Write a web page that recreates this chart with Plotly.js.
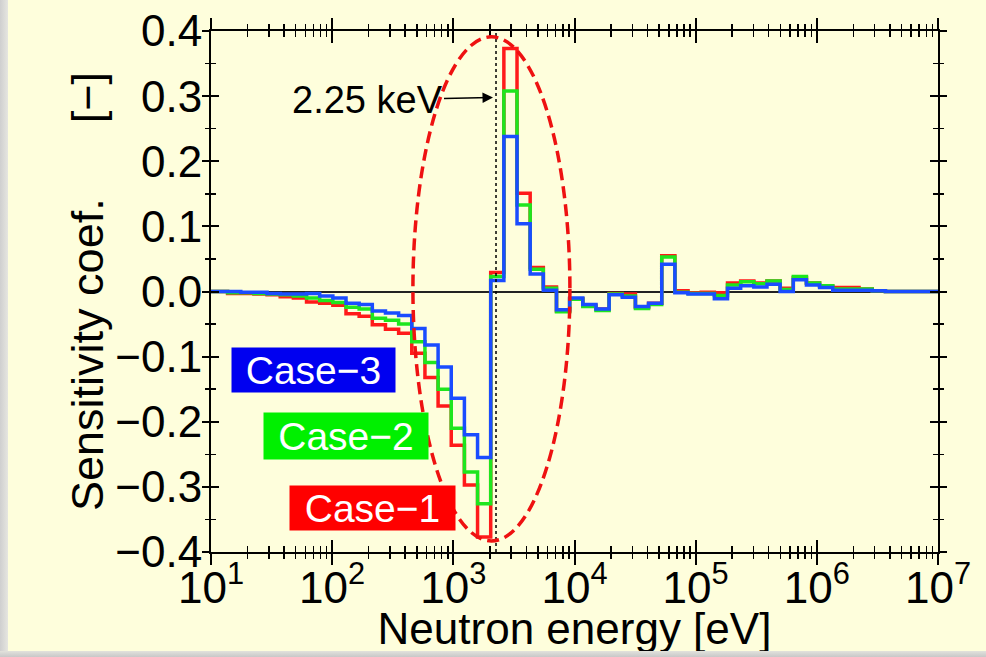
<!DOCTYPE html>
<html>
<head>
<meta charset="utf-8">
<script src="https://cdn.plot.ly/plotly-3.0.1.min.js"></script>
<style>
html,body{margin:0;padding:0;width:986px;height:657px;overflow:hidden;background:#fefedc;}
#plot{position:absolute;left:0;top:0;width:986px;height:653px;}
#edgeL{position:absolute;left:0;top:0;width:8px;height:657px;background:linear-gradient(to right,#cfcfcf,#e6e6e0);pointer-events:none;}
#edgeB{position:absolute;left:0;top:651px;width:986px;height:6px;background:linear-gradient(to bottom,#e2e2dc,#c8c8c8);pointer-events:none;}
</style>
</head>
<body>
<div id="plot"></div>
<div id="edgeL"></div>
<div id="edgeB"></div>
<script>
// Group boundaries (eV), ascending, 0.25-lethargy group structure
const edges = [8.3153, 10.677, 13.710, 17.604, 22.603, 29.023, 37.267, 47.851, 61.442, 78.893,
  101.30, 130.07, 167.02, 214.45, 275.36, 353.58, 454.00, 582.95, 748.52, 961.12,
  1234.1, 1584.6, 2034.7, 2612.6, 3354.6, 4307.4, 5530.8, 7101.7, 9118.8, 11709,
  15034, 19305, 24788, 31828, 40868, 52475, 67379, 86517, 111090, 142640,
  183160, 235180, 301970, 387740, 497870, 639280, 820850, 1054000, 1353400, 1737700,
  2231300, 2865000, 3678800, 4723700, 6065300, 7788000, 10000000];

// Sensitivity per group (low energy -> high energy)
const case1 = [0, 0, -0.003, -0.003, -0.004, -0.005, -0.008, -0.010, -0.016, -0.018,
  -0.021, -0.034, -0.038, -0.051, -0.058, -0.064, -0.095, -0.132, -0.176, -0.236,
  -0.297, -0.377, 0.029, 0.373, 0.151, 0.037, 0.007, -0.030, -0.011, -0.021,
  -0.027, -0.003, -0.004, -0.024, -0.018, 0.055, 0.001, -0.002, -0.001, -0.002,
  0.013, 0.016, 0.013, 0.016, 0.005, 0.021, 0.013, 0.008, 0.006, 0.006,
  0.004, 0.001, 0, 0, 0, 0];
const case2 = [0, 0, -0.002, -0.002, -0.003, -0.004, -0.005, -0.007, -0.010, -0.014,
  -0.017, -0.024, -0.027, -0.041, -0.044, -0.050, -0.077, -0.109, -0.150, -0.210,
  -0.277, -0.326, 0.023, 0.308, 0.133, 0.034, 0.005, -0.031, -0.012, -0.023,
  -0.029, -0.004, -0.007, -0.026, -0.020, 0.053, -0.001, -0.003, -0.003, -0.006,
  0.010, 0.015, 0.012, 0.016, 0.003, 0.023, 0.013, 0.009, 0.004, 0.004,
  0.004, 0.001, 0, 0, 0, 0];
const case3 = [0, 0, 0, -0.001, -0.001, -0.003, -0.004, -0.004, -0.003, -0.007,
  -0.010, -0.018, -0.020, -0.030, -0.033, -0.037, -0.057, -0.082, -0.116, -0.164,
  -0.220, -0.255, 0.017, 0.238, 0.104, 0.027, 0.002, -0.028, -0.010, -0.020,
  -0.027, -0.005, -0.009, -0.023, -0.018, 0.042, -0.002, -0.004, -0.004, -0.011,
  0.005, 0.009, 0.007, 0.011, 0.000, 0.018, 0.010, 0.006, 0.002, 0.002,
  0.002, 0.001, 0, 0, 0, 0];

const seriesNames = ['Case−1', 'Case−2', 'Case−3'];
const lineColors = ['#ff1a1a', '#1ee61e', '#1a4cff'];
const boxColors = ['#ff0000', '#00f000', '#0000f0'];

const xTickVals = [1e1, 1e2, 1e3, 1e4, 1e5, 1e6, 1e7];
const xTickText = ['10<sup>1</sup>', '10<sup>2</sup>', '10<sup>3</sup>', '10<sup>4</sup>', '10<sup>5</sup>', '10<sup>6</sup>', '10<sup>7</sup>'];
const yTickVals = [-0.4, -0.3, -0.2, -0.1, 0.0, 0.1, 0.2, 0.3, 0.4];
const yTickText = ['−0.4', '−0.3', '−0.2', '−0.1', '0.0', '0.1', '0.2', '0.3', '0.4'];
const markerEnergy = 2250;

const xMinor = [];
for (let d = 1; d < 7; d++) for (let m = 2; m <= 9; m++) xMinor.push(m * Math.pow(10, d));
const yMinor = [-0.35, -0.25, -0.15, -0.05, 0.05, 0.15, 0.25, 0.35];

function withLast(a) { return a.concat([a[a.length - 1]]); }

const FONT = 'Liberation Sans, Arial, sans-serif';
const cases = [case1, case2, case3];
const traces = cases.map((c, i) => ({
  x: edges, y: withLast(c), type: 'scatter', mode: 'lines', name: seriesNames[i],
  line: {shape: 'hv', color: lineColors[i], width: 3.5}, hoverinfo: 'x+y'
}));
traces.push({x: [], y: [], xaxis: 'x2', yaxis: 'y2', type: 'scatter', mode: 'lines', showlegend: false});

const axCommon = {color: '#000', linecolor: '#000', tickcolor: '#000', tickwidth: 2, showgrid: false};
const layout = {
  width: 986, height: 653,
  margin: {l: 211, r: 48, t: 31, b: 101},
  paper_bgcolor: '#fefedc', plot_bgcolor: '#fefedc',
  showlegend: false,
  font: {family: FONT, color: '#000'},
  // main axes: inside ticks + labels; overlay axes: outside ticks (so ticks cross the frame)
  xaxis: Object.assign({}, axCommon, {
    type: 'log', range: [1, 7], tickmode: 'array', tickvals: xTickVals, ticktext: xTickText,
    ticks: 'inside', ticklen: 12, mirror: 'allticks', showline: true, linewidth: 2,
    zeroline: false, tickfont: {size: 44, family: FONT}, ticklabelstandoff: -4,
    minor: {tickmode: 'array', tickvals: xMinor, ticks: 'inside', ticklen: 6, tickwidth: 1.5, tickcolor: '#000'},
    title: {text: 'Neutron energy [eV]', font: {size: 44, family: FONT}, standoff: 5}
  }),
  yaxis: Object.assign({}, axCommon, {
    range: [-0.4, 0.4], tickmode: 'array', tickvals: yTickVals, ticktext: yTickText,
    ticks: 'inside', ticklen: 8, mirror: 'allticks', showline: true, linewidth: 2,
    zeroline: true, zerolinecolor: '#222', zerolinewidth: 2,
    tickfont: {size: 44, family: FONT}, ticklabelstandoff: -2,
    minor: {tickmode: 'array', tickvals: yMinor, ticks: 'inside', ticklen: 5, tickwidth: 1.5, tickcolor: '#000'},
    title: {text: 'Sensitivity coef.\u00a0\u00a0\u00a0\u00a0\u00a0\u00a0[−]', font: {size: 45, family: FONT}}
  }),
  xaxis2: Object.assign({}, axCommon, {
    type: 'log', range: [1, 7], overlaying: 'x', anchor: 'y2', tickmode: 'array', tickvals: xTickVals,
    ticks: 'outside', ticklen: 12, mirror: 'allticks', showline: false, showticklabels: false, zeroline: false,
    minor: {tickmode: 'array', tickvals: xMinor, ticks: 'outside', ticklen: 6, tickwidth: 1.5, tickcolor: '#000'}
  }),
  yaxis2: Object.assign({}, axCommon, {
    range: [-0.4, 0.4], overlaying: 'y', anchor: 'x2', tickmode: 'array', tickvals: yTickVals,
    ticks: 'outside', ticklen: 8, mirror: 'allticks', showline: false, showticklabels: false, zeroline: false,
    minor: {tickmode: 'array', tickvals: yMinor, ticks: 'outside', ticklen: 5, tickwidth: 1.5, tickcolor: '#000'}
  }),
  shapes: [
    {type: 'line', xref: 'x', yref: 'paper', x0: markerEnergy, x1: markerEnergy, y0: 0, y1: 1,
     line: {color: '#000', width: 1.5, dash: 'dot'}, layer: 'above'},
    {type: 'circle', xref: 'x', yref: 'y', x0: 464, x1: 9165, y0: -0.383, y1: 0.391,
     line: {color: '#ee1111', width: 3.5, dash: '12px,6px'}, layer: 'above'}
  ],
  annotations: [
    {x: Math.log10(markerEnergy), y: 0.298, xref: 'x', yref: 'y', xshift: -3,
     text: '2.25 keV', showarrow: true, arrowhead: 2, arrowsize: 1.4, arrowwidth: 1.5, arrowcolor: '#000',
     ax: -126, ay: 3, font: {size: 38, family: FONT, color: '#000'}},
    {xref: 'paper', yref: 'paper', x: 0.141, y: 0.349, xanchor: 'center', yanchor: 'middle', text: seriesNames[2], showarrow: false,
     bgcolor: boxColors[2], width: 161, height: 42, borderpad: 1, font: {size: 39, color: '#fff', family: FONT}},
    {xref: 'paper', yref: 'paper', x: 0.1857, y: 0.2226, xanchor: 'center', yanchor: 'middle', text: seriesNames[1], showarrow: false,
     bgcolor: boxColors[1], width: 162, height: 44, borderpad: 1, font: {size: 39, color: '#fff', family: FONT}},
    {xref: 'paper', yref: 'paper', x: 0.2221, y: 0.0845, xanchor: 'center', yanchor: 'middle', text: seriesNames[0], showarrow: false,
     bgcolor: boxColors[0], width: 163, height: 42, borderpad: 1, font: {size: 39, color: '#fff', family: FONT}}
  ]
};

Plotly.newPlot('plot', traces, layout, {displayModeBar: false, staticPlot: true});
</script>
</body>
</html>
